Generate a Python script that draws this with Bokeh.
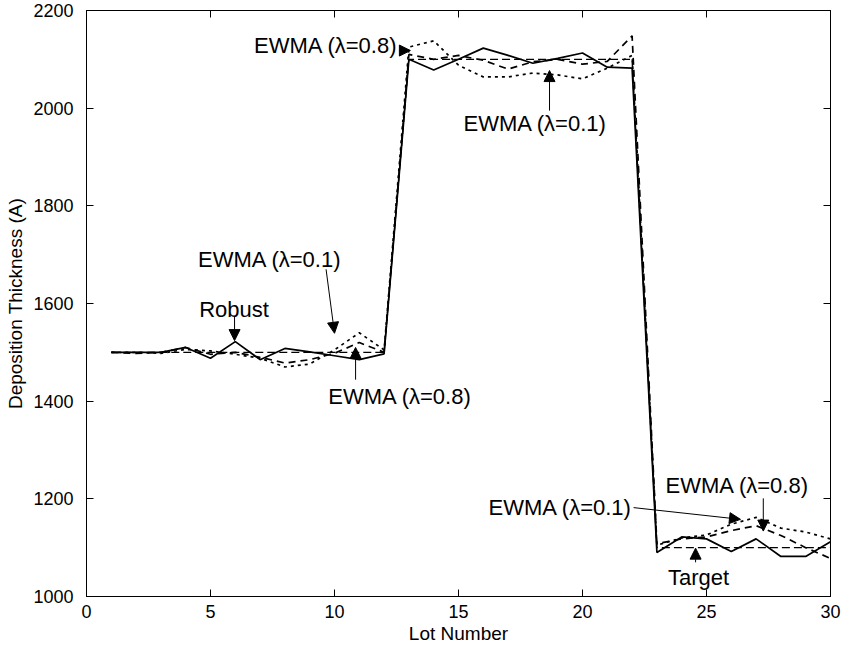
from bokeh.plotting import figure
from bokeh.models import Range1d, LinearAxis, Arrow, NormalHead, Label, FixedTicker, CustomJSTickFormatter
from bokeh.embed import file_html
from bokeh.resources import INLINE

# ---- data ----
lots = list(range(1, 31))
target = [1500] * 12 + [2100] * 10 + [1100] * 8
robust = [1500, 1500, 1500, 1510, 1488, 1522, 1485, 1508, 1501, 1493, 1485, 1497,
          2100, 2078, 2100, 2123, 2108, 2092, 2102, 2113, 2084, 2082,
          1090, 1122, 1118, 1092, 1118, 1082, 1082, 1112]
ewma_01 = [1500, 1500, 1498, 1506, 1503, 1496, 1488, 1470, 1476, 1505, 1540, 1505,
           2125, 2138, 2088, 2064, 2064, 2072, 2068, 2060, 2082, 2108,
           1105, 1120, 1126, 1148, 1162, 1140, 1132, 1118]
ewma_08 = [1500, 1498, 1500, 1510, 1496, 1500, 1490, 1478, 1485, 1498, 1520, 1500,
           2110, 2100, 2108, 2098, 2080, 2095, 2100, 2090, 2096, 2148,
           1108, 1118, 1122, 1135, 1145, 1125, 1100, 1078]

x_ticks = [0, 5, 10, 15, 20, 25, 30]
y_ticks = [1000, 1200, 1400, 1600, 1800, 2000, 2200]

# annotations: (text, text x, text y, align, arrow start x, y, arrow end x, y)
notes = [
    ("EWMA (\u03bb=0.8)", 12.55, 2128, "right", 12.6, 2118, 13.06, 2118),
    ("EWMA (\u03bb=0.1)", 15.2, 1968, "left", 18.67, 1995, 18.67, 2077),
    ("EWMA (\u03bb=0.1)", 4.5, 1691, "left", 9.66, 1670, 10.0, 1539),
    ("Robust", 5.95, 1587, "center", 5.97, 1573, 5.97, 1524),
    ("EWMA (\u03bb=0.8)", 9.75, 1410, "left", 10.85, 1444, 10.85, 1510),
    ("EWMA (\u03bb=0.1)", 22.0, 1183, "right", 22.06, 1182, 26.37, 1158),
    ("EWMA (\u03bb=0.8)", 23.35, 1227, "left", 27.29, 1201, 27.29, 1134),
    ("Target", 24.68, 1039, "center", 24.56, 1070, 24.56, 1099),
]

FONT = "Liberation Sans"

p = figure(frame_width=744, frame_height=586,
           x_range=Range1d(0, 30), y_range=Range1d(1000, 2200),
           output_backend="svg", toolbar_location=None,
           min_border_left=86, min_border_right=14, min_border_top=10, min_border_bottom=54)
p.background_fill_color = "white"
p.border_fill_color = "white"
p.outline_line_color = "black"
p.outline_line_width = 1
p.xgrid.visible = False
p.ygrid.visible = False

for ax, ticks in ((p.xaxis[0], x_ticks), (p.yaxis[0], y_ticks)):
    ax.ticker = FixedTicker(ticks=ticks)
    ax.major_tick_in = 7
    ax.major_tick_out = 0
    ax.minor_tick_in = 0
    ax.minor_tick_out = 0
    ax.axis_line_color = "black"
    ax.major_tick_line_color = "black"
    ax.major_label_text_font = FONT
    ax.major_label_text_font_size = "18px"
    ax.major_label_text_color = "black"
    ax.axis_label_text_font = FONT
    ax.axis_label_text_font_size = "19px"
    ax.axis_label_text_font_style = "normal"
    ax.axis_label_text_color = "black"

p.xaxis[0].axis_label = "Lot Number"
p.xaxis[0].major_label_standoff = 8
p.xaxis[0].axis_label_standoff = 2
p.yaxis[0].axis_label = "Deposition Thickness (A)"
p.yaxis[0].major_label_standoff = 13
p.yaxis[0].axis_label_standoff = 4

blank = CustomJSTickFormatter(code="return ''")
for loc, ticks in (("right", y_ticks), ("above", x_ticks)):
    ax = LinearAxis(ticker=FixedTicker(ticks=ticks), formatter=blank,
                    major_tick_in=7, major_tick_out=0, minor_tick_in=0, minor_tick_out=0,
                    major_label_standoff=0)
    p.add_layout(ax, loc)

p.line(lots, target, line_color="black", line_width=1.4, line_dash="8 4")
p.line(lots, ewma_01, line_color="black", line_width=1.7, line_dash="3 4")
p.line(lots, ewma_08, line_color="black", line_width=1.7, line_dash="7 5")
p.line(lots, robust, line_color="black", line_width=1.7)

for text, tx, ty, align, xs, ys, xe, ye in notes:
    p.add_layout(Label(x=tx, y=ty, text=text, text_align=align, text_baseline="middle",
                       text_font=FONT, text_font_size="22px", text_color="black"))
    p.add_layout(Arrow(x_start=xs, y_start=ys, x_end=xe, y_end=ye, line_width=1,
                       line_color="black",
                       end=NormalHead(size=11, fill_color="black", line_color="black")))

open("out.html", "w").write(file_html(p, INLINE))
